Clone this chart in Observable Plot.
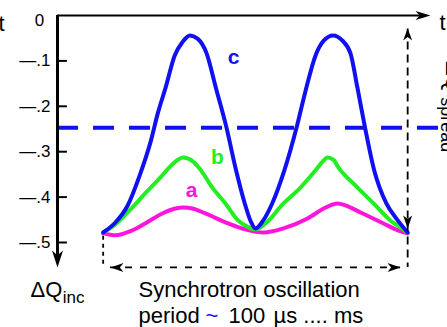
<!DOCTYPE html>
<html>
<head>
<meta charset="utf-8">
<script src="https://cdn.jsdelivr.net/npm/d3@7"></script>
<script src="https://cdn.jsdelivr.net/npm/@observablehq/plot@0.6"></script>
<style>
  html, body { margin: 0; padding: 0; background: white; }
  svg { display: block; white-space: pre; }
</style>
</head>
<body>
<div id="chart"></div>
<script>
// ---- data (time in µs, tune shift ΔQ) ----
const timeA = [0, 8, 18, 27.6, 38.8, 47.4, 52.6, 58.6, 67.1, 82.2, 93.4, 105.3, 118.4, 134.2, 146.1, 153.9, 161.2, 169.1, 184.2, 192.1, 200];
const curveA = [-0.480, -0.484, -0.475, -0.458, -0.436, -0.425, -0.423, -0.425, -0.436, -0.458, -0.471, -0.478, -0.469, -0.447, -0.423, -0.414, -0.421, -0.434, -0.458, -0.471, -0.480];

const timeB = [0, 8, 18, 27.6, 37.5, 45.4, 52.6, 59.2, 63.8, 71.7, 80.3, 88.8, 94.7, 100, 106.6, 118.4, 129.6, 139.5, 144.1, 147.4, 151.3, 154.6, 167.1, 177.6, 188.8, 195.4, 200];
const curveB = [-0.478, -0.460, -0.427, -0.392, -0.357, -0.328, -0.313, -0.322, -0.339, -0.379, -0.414, -0.452, -0.465, -0.471, -0.458, -0.414, -0.379, -0.341, -0.322, -0.313, -0.318, -0.335, -0.379, -0.414, -0.452, -0.467, -0.478];

const timeC = [0, 8, 16, 24, 31, 36, 41, 47, 52, 57, 62, 68, 74, 81, 87, 93, 97, 100, 105, 111, 119, 127, 133, 139.5, 145, 151, 157, 162.5, 167, 172, 178, 186, 193, 200];
const curveC = [-0.478, -0.456, -0.419, -0.352, -0.280, -0.214, -0.159, -0.088, -0.059, -0.044, -0.051, -0.084, -0.159, -0.247, -0.337, -0.414, -0.454, -0.469, -0.452, -0.414, -0.341, -0.247, -0.165, -0.088, -0.055, -0.044, -0.055, -0.084, -0.159, -0.247, -0.341, -0.414, -0.449, -0.478];

const spreadLevel = -0.247;
const yTicks = [-0.1, -0.2, -0.3, -0.4, -0.5];
const yTickLabels = ["—.1", "—.2", "—.3", "—.4", "—.5"];
const seriesNames = ["a", "b", "c"];
const periodStart = 0, periodEnd = 200;

// ---- styles ----
const blue = "#1010f0", green = "#22ee22", magenta = "#ff14dc";
const font = "'Liberation Sans', Arial, Helvetica, sans-serif";

const toRows = (ts, vs) => ts.map((t, i) => ({t, v: vs[i]}));
const rowsA = toRows(timeA, curveA), rowsB = toRows(timeB, curveB), rowsC = toRows(timeC, curveC);

function arrowHead(L, W, angleDeg) {
  const a = angleDeg * Math.PI / 180, c = Math.cos(a), s = Math.sin(a);
  const pts = [[0, 0], [W, L], [0, 0.72 * L], [-W, L]].map(([x, y]) => [x * c - y * s, x * s + y * c]);
  return {draw(ctx) { ctx.moveTo(pts[0][0], pts[0][1]); for (let i = 1; i < pts.length; ++i) ctx.lineTo(pts[i][0], pts[i][1]); ctx.closePath(); }};
}

const xAxisPos = -30, xArrowTip = 215;
const belowY = -0.555;

const heads = [
  {x: xAxisPos, y: belowY, angle: 180, L: 17, W: 5.5},
  {x: xArrowTip, y: 0, angle: 90, L: 15, W: 4.5},
  {x: periodEnd, y: -0.0286, angle: 0, L: 12, W: 4.5},
  {x: periodEnd, y: -0.469, angle: 180, L: 13, W: 4.5},
  {x: 4.8, y: belowY, angle: -90, L: 13, W: 4.5},
  {x: 195.3, y: belowY, angle: 90, L: 13, W: 4.5}
];

const txt = (x, y, s, o = {}) => Plot.text([{x, y, s}], {x: "x", y: "y", text: "s", fontFamily: font, ...o});

const chart = Plot.plot({
  width: 447,
  height: 327,
  marginLeft: 57,
  marginRight: 17,
  marginTop: 15,
  marginBottom: 85,
  x: {domain: [xAxisPos, xArrowTip], axis: null},
  y: {domain: [-0.5, 0], axis: null},
  style: {fontFamily: font, background: "white", color: "black"},
  marks: [
    // spread threshold (dashed blue)
    Plot.ruleY([spreadLevel], {x1: xAxisPos, x2: 232, stroke: blue, strokeWidth: 4, strokeDasharray: "21,15"}),
    // curves
    Plot.line(rowsA, {x: "t", y: "v", stroke: magenta, strokeWidth: 4, curve: "monotone-x"}),
    Plot.line(rowsB, {x: "t", y: "v", stroke: green, strokeWidth: 4, curve: "monotone-x"}),
    Plot.line(rowsC, {x: "t", y: "v", stroke: blue, strokeWidth: 4, curve: "monotone-x"}),
    // curve labels
    txt(58, -0.385, seriesNames[0], {fill: magenta, fontSize: 21, fontWeight: "bold"}),
    txt(75, -0.313, seriesNames[1], {fill: green, fontSize: 21, fontWeight: "bold"}),
    txt(85.6, -0.0925, seriesNames[2], {fill: blue, fontSize: 21, fontWeight: "bold"}),
    // axes
    Plot.ruleX([xAxisPos], {y1: 0, y2: -0.54, stroke: "black", strokeWidth: 3}),
    Plot.ruleY([0], {x1: xAxisPos, x2: xArrowTip - 3, stroke: "black", strokeWidth: 2}),
    Plot.ruleY(yTicks, {x1: xAxisPos, x2: -23.5, stroke: "black", strokeWidth: 2}),
    Plot.text(yTicks, {x: -34.6, y: d => d, text: (d, i) => yTickLabels[i], textAnchor: "end", lineAnchor: "middle", fontSize: 17, fontFamily: font}),
    txt(-41.8, 0, "0", {textAnchor: "middle", lineAnchor: "middle", dy: 5, fontSize: 17}),
    // period dashed guides
    Plot.ruleX([periodEnd], {y1: -0.03, y2: belowY, stroke: "black", strokeWidth: 1.8, strokeDasharray: "8,5"}),
    Plot.ruleX([periodStart], {y1: -0.486, y2: belowY, stroke: "black", strokeWidth: 1.8, strokeDasharray: "4,4"}),
    Plot.ruleY([belowY], {x1: 4.8, x2: 195.3, stroke: "black", strokeWidth: 1.8, strokeDasharray: "7,8"}),
    // arrowheads
    ...heads.map(h => Plot.dot([h], {x: "x", y: "y", symbol: arrowHead(h.L, h.W, h.angle), fill: "black", stroke: "none"})),
    // axis labels
    txt(-47.7, -0.621, "ΔQ", {textAnchor: "start", lineAnchor: "bottom", fontSize: 22}),
    txt(-26.5, -0.634, "inc", {textAnchor: "start", lineAnchor: "bottom", fontSize: 17}),
    txt(220.9, -0.033, "t", {textAnchor: "start", lineAnchor: "bottom", fontSize: 22}),
    txt(-64.8, -0.035, "t", {textAnchor: "end", lineAnchor: "bottom", fontSize: 22}),
    txt(225.5, -0.1, "ΔQ", {textAnchor: "start", lineAnchor: "bottom", fontSize: 22, rotate: 90}),
    txt(222.2, -0.18, "spread", {textAnchor: "start", lineAnchor: "bottom", fontSize: 18, rotate: 90}),
    // caption below
    txt(23.2, -0.619, "Synchrotron oscillation", {textAnchor: "start", lineAnchor: "bottom", fontSize: 22}),
    txt(23.2, -0.678, "period", {textAnchor: "start", lineAnchor: "bottom", fontSize: 22}),
    txt(67.2, -0.678, "~", {textAnchor: "start", lineAnchor: "bottom", fontSize: 22, fill: blue}),
    txt(82.3, -0.678, "100", {textAnchor: "start", lineAnchor: "bottom", fontSize: 22}),
    txt(111.9, -0.678, "µs .... ms", {textAnchor: "start", lineAnchor: "bottom", fontSize: 22})
  ]
});
document.getElementById("chart").appendChild(chart);
</script>
</body>
</html>
